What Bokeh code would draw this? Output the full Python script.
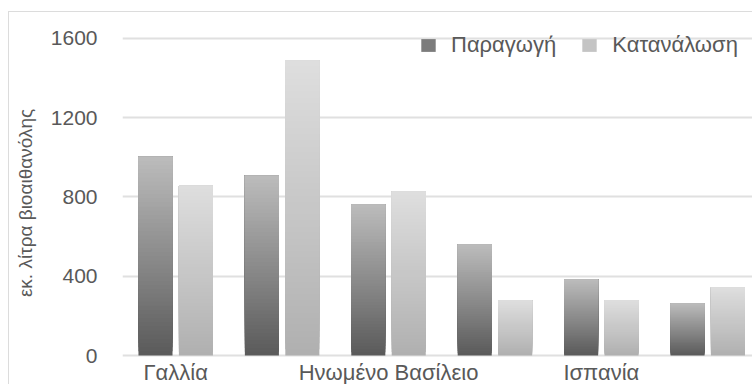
from bokeh.plotting import figure
from bokeh.models import FixedTicker, Legend, LegendItem, Range1d
from bokeh.core.properties import value
from bokeh.embed import file_html
from bokeh.resources import INLINE

categories = ["Γαλλία", "Γερμανία", "Ηνωμένο Βασίλειο", "Βέλγιο", "Ισπανία", "Πολωνία"]
shown_labels = ["Γαλλία", "", "Ηνωμένο Βασίλειο", "", "Ισπανία", ""]
production = [1003, 907, 762, 560, 384, 263]
consumption = [857, 1490, 828, 278, 278, 343]
series_names = ["Παραγωγή", "Κατανάλωση"]
y_ticks = [0, 400, 800, 1200, 1600]
y_title = "εκ. λίτρα βιοαιθανόλης"

FONT = "Liberation Sans"
TXT = "#595959"

p = figure(width=744, height=373, output_backend="svg", toolbar_location=None,
           x_range=Range1d(0, 5.93), y_range=Range1d(-151.4, 1690.8),
           x_axis_location=None,
           min_border_left=113, min_border_right=0, min_border_top=8, min_border_bottom=0)
p.outline_line_color = None
p.background_fill_color = "white"
p.border_fill_color = "white"
p.styles = {"margin-left": "8px", "margin-top": "11px",
            "border-left": "1px solid #dcdcdc", "border-top": "1px solid #dcdcdc"}

def grad(c0, c1, t):
    return "#%02x%02x%02x" % tuple(int(round(a + (b - a) * t)) for a, b in zip(c0, c1))

N = 48
width = 0.32
offsets = [-0.19, 0.19]
bottoms_c = [(90, 90, 90), (176, 176, 176)]
tops_c = [(188, 188, 188), (222, 222, 222)]
legend_cols = ["#7c7c7c", "#c4c4c4"]
renderers = []
for s, vals in enumerate([production, consumption]):
    left, right, bottom, top, color = [], [], [], [], []
    for i, v in enumerate(vals):
        xc = i + 0.5 + offsets[s]
        for k in range(N):
            left.append(xc - width / 2)
            right.append(xc + width / 2)
            bottom.append(v * k / N)
            top.append(v)
            color.append(grad(bottoms_c[s], tops_c[s], (k + 0.5) / N))
    p.quad(left=left, right=right, bottom=bottom, top=top, fill_color=color, line_color=None)
    r = p.quad(left=[-10], right=[-9], bottom=[-10], top=[-9], fill_color=legend_cols[s], line_color=None)
    renderers.append(r)

legend = Legend(items=[LegendItem(label=series_names[i], renderers=[renderers[i]]) for i in range(2)],
                orientation="horizontal", location=(297, 327), background_fill_alpha=0,
                border_line_color=None, padding=0, margin=0, spacing=24, label_standoff=14,
                glyph_width=18, glyph_height=16,
                label_text_font=FONT, label_text_font_size="22px", label_text_color=TXT)
p.add_layout(legend, "center")

# y axis
p.yaxis.ticker = FixedTicker(ticks=y_ticks)
p.yaxis.axis_line_color = None
p.yaxis.major_tick_line_color = None
p.yaxis.minor_tick_line_color = None
p.yaxis.major_tick_out = 0
p.yaxis.major_tick_in = 0
p.yaxis.major_label_standoff = 25
p.yaxis.major_label_text_font = FONT
p.yaxis.major_label_text_font_size = "21px"
p.yaxis.major_label_text_color = TXT
p.yaxis.axis_label = y_title
p.yaxis.axis_label_text_font = FONT
p.yaxis.axis_label_text_font_size = "19px"
p.yaxis.axis_label_text_font_style = "normal"
p.yaxis.axis_label_text_color = TXT
p.yaxis.axis_label_standoff = 12

# category labels (every other one shown, as in the original)
xt = [i + 0.5 for i in range(len(categories))]
p.text(x=xt, y=[0] * len(xt), text=shown_labels, text_align="center",
       text_baseline="alphabetic", y_offset=17, text_font=value(FONT),
       text_font_size="22px", text_color=TXT)

p.xgrid.grid_line_color = None
p.ygrid.ticker = FixedTicker(ticks=y_ticks)
p.ygrid.grid_line_color = "#e0e0e0"
p.ygrid.grid_line_width = 2

open("out.html", "w").write(file_html(p, INLINE))
